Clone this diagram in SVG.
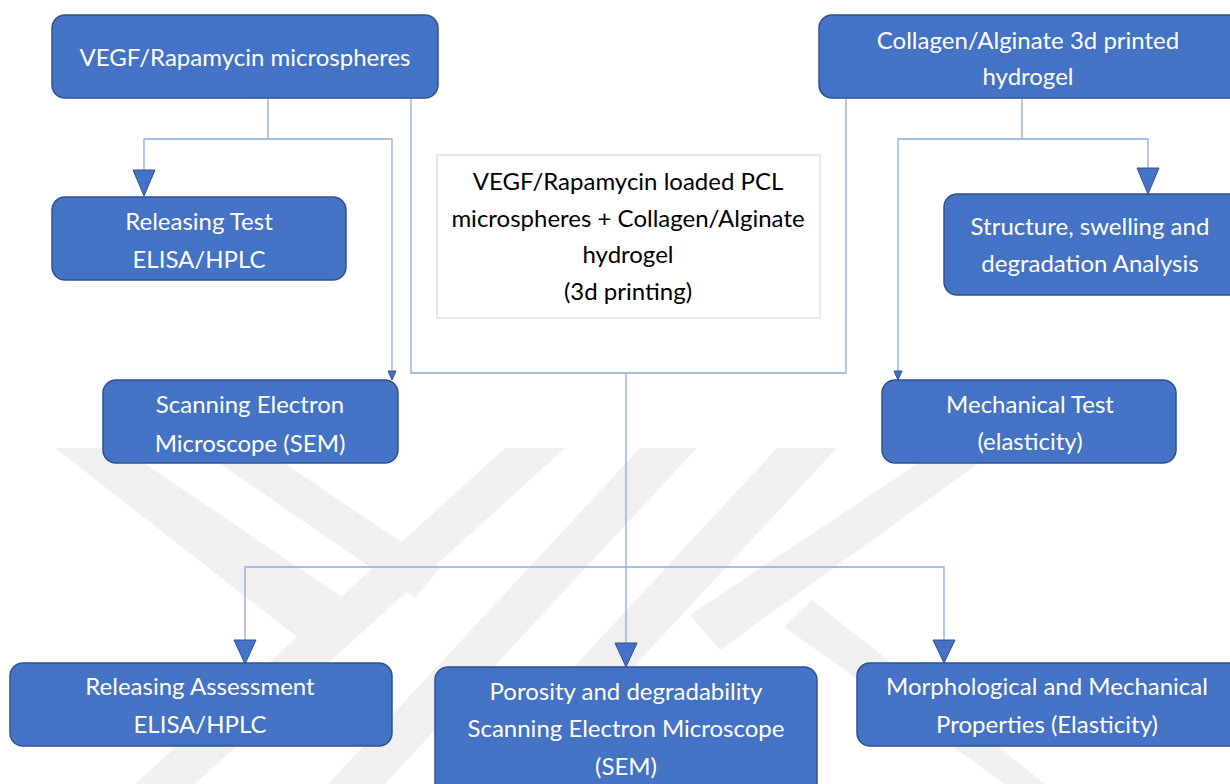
<svg xmlns="http://www.w3.org/2000/svg" width="1230" height="784" viewBox="0 0 1230 784">
<style>
.box{fill:#4472C4;stroke:#2F528F;stroke-width:1.5}
.wbox{fill:#FFFFFF;stroke:#DAE3F3;stroke-width:1.5}
.t{font-family:Lato,"Open Sans","Liberation Sans",sans-serif;font-size:24px;fill:#FFFFFF;text-anchor:middle}
.tb{font-family:Lato,"Open Sans","Liberation Sans",sans-serif;font-size:24px;fill:#000000;text-anchor:middle}
.ln{fill:none;stroke:#8FAADC;stroke-width:1.3}
.ah{fill:#4472C4;stroke:#2F528F;stroke-width:1}
.wm{fill:#F0F0F0}
</style>
<rect width="1230" height="784" fill="#FFFFFF"/>
<g id="watermark">
<polygon class="wm" points="505,448 565,448 195,784 135,784"/>
<polygon class="wm" points="55,448 122,448 376,620 320,655"/>
<polygon class="wm" points="197,448 262,448 440,568 415,598"/>
<polygon class="wm" points="640,448 697,448 385,784 328,784"/>
<polygon class="wm" points="777,448 837,448 525,784 465,784"/>
<polygon class="wm" points="784,627 812,600 1045,784 1005,784"/>
<polygon class="wm" points="941,448 1000,448 720,650 690,615"/>
</g>
<g id="connectors">
<polyline class="ln" points="268,98 268,139"/>
<polyline class="ln" points="144,170 144,139 392,139 392,373"/>
<polyline class="ln" points="411,98 411,373 846,373 846,98"/>
<polyline class="ln" points="626,373 626,643"/>
<polyline class="ln" points="245,640 245,567 944,567 944,640"/>
<polyline class="ln" points="1022,98 1022,139"/>
<polyline class="ln" points="898,372 898,139 1148,139 1148,168"/>
<polygon class="ah" points="133,170 155,170 144,196"/>
<polygon class="ah" points="388,371 396,371 392,380"/>
<polygon class="ah" points="615,643 637,643 626,667"/>
<polygon class="ah" points="234,640 256,640 245,664"/>
<polygon class="ah" points="933,640 955,640 944,663"/>
<polygon class="ah" points="1137,168 1159,168 1148,194"/>
<polygon class="ah" points="894,371 902,371 898,380"/>
</g>
<g id="n1">
<rect class="box" x="52" y="15" width="386" height="83" rx="13"/>
<text class="t" x="245" y="66">VEGF/Rapamycin microspheres</text>
</g>
<g id="n2">
<rect class="box" x="819" y="15" width="425" height="83" rx="13"/>
<text class="t" x="1028" y="49">Collagen/Alginate 3d printed</text>
<text class="t" x="1028" y="85">hydrogel</text>
</g>
<g id="n3">
<rect class="wbox" x="437" y="155" width="383" height="163"/>
<text class="tb" x="628" y="190">VEGF/Rapamycin loaded PCL</text>
<text class="tb" x="628" y="227">microspheres + Collagen/Alginate</text>
<text class="tb" x="628" y="263">hydrogel</text>
<text class="tb" x="628" y="300">(3d printing)</text>
</g>
<g id="n4">
<rect class="box" x="52" y="197" width="294" height="83" rx="13"/>
<text class="t" x="199" y="230">Releasing Test</text>
<text class="t" x="199" y="268">ELISA/HPLC</text>
</g>
<g id="n5">
<rect class="box" x="103" y="380" width="295" height="83" rx="13"/>
<text class="t" x="250" y="413">Scanning Electron</text>
<text class="t" x="250" y="452">Microscope (SEM)</text>
</g>
<g id="n6">
<rect class="box" x="944" y="194" width="300" height="101" rx="13"/>
<text class="t" x="1090" y="235">Structure, swelling and</text>
<text class="t" x="1090" y="272">degradation Analysis</text>
</g>
<g id="n7">
<rect class="box" x="882" y="380" width="294" height="83" rx="13"/>
<text class="t" x="1030" y="413">Mechanical Test</text>
<text class="t" x="1030" y="450">(elasticity)</text>
</g>
<g id="n8">
<rect class="box" x="10" y="663" width="382" height="83" rx="13"/>
<text class="t" x="200" y="695">Releasing Assessment</text>
<text class="t" x="200" y="733">ELISA/HPLC</text>
</g>
<g id="n9">
<rect class="box" x="435" y="667" width="382" height="130" rx="13"/>
<text class="t" x="626" y="700">Porosity and degradability</text>
<text class="t" x="626" y="737">Scanning Electron Microscope</text>
<text class="t" x="626" y="775">(SEM)</text>
</g>
<g id="n10">
<rect class="box" x="857" y="663" width="390" height="83" rx="13"/>
<text class="t" x="1047" y="695">Morphological and Mechanical</text>
<text class="t" x="1047" y="733">Properties (Elasticity)</text>
</g>
</svg>
